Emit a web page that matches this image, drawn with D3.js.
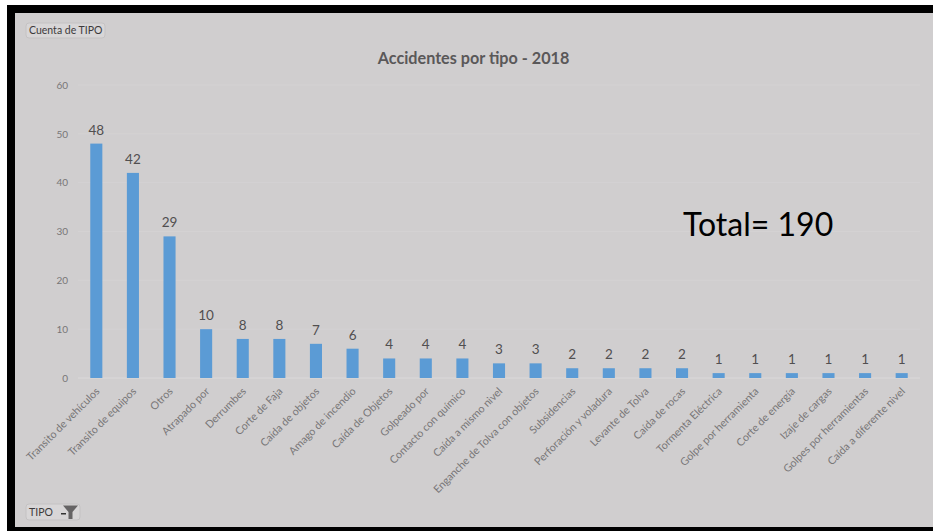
<!DOCTYPE html>
<html>
<head>
<meta charset="utf-8">
<script src="https://cdn.jsdelivr.net/npm/d3@7/dist/d3.min.js"></script>
<style>
html,body{margin:0;padding:0;background:#fff;}
svg{display:block;}
text{font-family:Lato,"Open Sans",sans-serif;}
</style>
</head>
<body>
<svg id="chart" width="933" height="531"></svg>
<script>
const categories = ["Transito de vehículos","Transito de equipos","Otros","Atrapado por","Derrumbes","Corte de Faja","Caída de objetos","Amago de incendio","Caída de Objetos","Golpeado por","Contacto con químico","Caída a mismo nivel","Enganche de Tolva con objetos","Subsidencias","Perforación y voladura","Levante de Tolva","Caída de rocas","Tormenta Eléctrica","Golpe por herramienta","Corte de energía","Izaje de cargas","Golpes por herramientas","Caída a diferente nivel"];
const counts = [48,42,29,10,8,8,7,6,4,4,4,3,3,2,2,2,2,1,1,1,1,1,1];
const yTicks = [0,10,20,30,40,50,60];
const chartTitle = "Accidentes por tipo - 2018";
const totalLabel = "Total= 190";

const svg = d3.select("#chart");

// Frame and panel: black on the top, left and bottom edges, open on the right
svg.append("rect").attr("x",7).attr("y",5).attr("width",926).attr("height",526).attr("fill","#000");
svg.append("rect").attr("x",15).attr("y",13).attr("width",918).attr("height",514).attr("fill","#d0cecf");

const x = d3.scaleBand().domain(categories).range([78,920]).paddingInner(0.67).paddingOuter(0.335);
const y = d3.scaleLinear().domain([0,60]).range([378,85]);

// Gridlines
svg.append("g").selectAll("line").data(yTicks).join("line")
  .attr("x1",78).attr("x2",920)
  .attr("y1",d=>y(d)).attr("y2",d=>y(d))
  .attr("stroke",d=>d===0?"#dbd9da":"#d4d2d3").attr("stroke-width",1);

// Value axis
const yAxis = d3.axisLeft(y).tickValues(yTicks).tickSize(0).tickPadding(0);
const yG = svg.append("g").attr("transform","translate(68,0)").call(yAxis);
yG.select(".domain").remove();
yG.selectAll("text").attr("fill","#787677").attr("font-size",10);

// Bars
svg.append("g").selectAll("rect").data(categories).join("rect")
  .attr("x",d=>x(d)).attr("width",x.bandwidth())
  .attr("y",(d,i)=>y(counts[i])).attr("height",(d,i)=>y(0)-y(counts[i]))
  .attr("fill","#5b9bd5");

// Value labels
svg.append("g").selectAll("text").data(categories).join("text")
  .attr("x",d=>x(d)+x.bandwidth()/2)
  .attr("y",(d,i)=>y(counts[i])-9)
  .attr("text-anchor","middle").attr("font-size",13.5).attr("fill","#514f50")
  .text((d,i)=>counts[i]);

// Category axis with slanted labels
const xAxis = d3.axisBottom(x).tickSize(0).tickPadding(0);
const xG = svg.append("g").attr("transform","translate(0,378)").call(xAxis);
xG.select(".domain").remove();
xG.selectAll("text")
  .attr("text-anchor","end").attr("font-size",10.7).attr("fill","#787677")
  .attr("dy",0).attr("y",0)
  .attr("transform","translate(4,14) rotate(-45)");

// Title
svg.append("text").attr("x",473.5).attr("y",64).attr("text-anchor","middle")
  .attr("font-size",16.2).attr("font-weight",700).attr("fill","#5a5859").text(chartTitle);

// Annotation
svg.append("text").attr("x",683).attr("y",235.5).attr("font-size",32)
  .attr("fill","#000").text(totalLabel);

// Field buttons
function fieldButton(bx,by,w,h,label){
  svg.append("rect").attr("x",bx).attr("y",by).attr("width",w).attr("height",h).attr("rx",3)
    .attr("fill","#d8d6d7").attr("stroke","#c4c2c3");
  svg.append("text").attr("x",bx+3).attr("y",by+h/2+3.5).attr("font-size",10.5).attr("fill","#3c3a3b").text(label);
}
fieldButton(26,23,79,15,"Cuenta de TIPO");
fieldButton(26,504,54,16,"TIPO");

// Filter glyph and its drop-down mark
const funnel = d3.path();
funnel.moveTo(63,505.5); funnel.lineTo(78,505.5); funnel.lineTo(72.5,512); funnel.lineTo(72.5,519);
funnel.lineTo(68.5,519); funnel.lineTo(68.5,512); funnel.closePath();
svg.append("path").attr("d",funnel.toString()).attr("fill","#666465");
svg.append("rect").attr("x",61).attr("y",513).attr("width",5).attr("height",1.5).attr("fill","#333");
</script>
</body>
</html>
